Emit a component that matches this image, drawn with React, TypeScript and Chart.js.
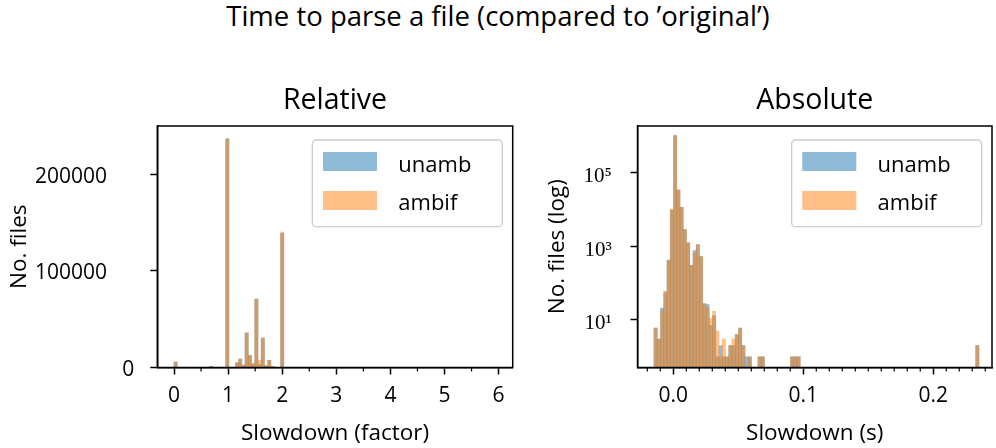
import React, { useEffect, useRef } from 'react';
import { Chart, registerables } from 'chart.js';

Chart.register(...registerables);

const SANS = '"Open Sans", Lato, "DejaVu Sans", sans-serif';
const SERIF = '"Liberation Serif", "DejaVu Serif", serif';

const figureTitle = 'Time to parse a file (compared to ’original’)';
const seriesLabels = ['unamb', 'ambif'];
const seriesColors = ['rgba(31, 119, 180, 0.5)', 'rgba(255, 127, 14, 0.5)'];

// ---------- Relative panel (slowdown factor), 100 bins ----------
const relTitle = 'Relative';
const relXLabel = 'Slowdown (factor)';
const relYLabel = 'No. files';
const relBinStart = 0;
const relBinWidth = 0.0597;
const relUnamb = [
  5500, 0, 0, 0, 0, 0, 0, 0, 0, 0,
  0, 1300, 0, 0, 0, 0, 237000, 0, 0, 4800,
  8600, 2400, 36000, 12700, 3500, 70800, 3000, 30500, 2000, 7500,
  1200, 0, 0, 139000, 0, 0, 0, 0, 0, 0,
  0, 0, 0, 0, 0, 0, 0, 0, 0, 0,
  0, 0, 0, 0, 0, 0, 0, 0, 0, 0,
  0, 0, 0, 0, 0, 0, 0, 0, 0, 0,
  0, 0, 0, 0, 0, 0, 0, 0, 0, 0,
  0, 0, 0, 0, 0, 0, 0, 0, 0, 0,
  0, 0, 0, 0, 0, 0, 0, 0, 0, 2,
];
const relAmbif = [
  5500, 0, 0, 0, 0, 0, 0, 0, 0, 0,
  0, 1300, 0, 0, 0, 0, 236000, 0, 0, 4800,
  8600, 2300, 35800, 12000, 4600, 70800, 7700, 30400, 2000, 7500,
  1200, 0, 0, 140100, 0, 0, 0, 0, 0, 0,
  0, 0, 0, 0, 0, 0, 0, 0, 0, 0,
  0, 0, 0, 0, 0, 0, 0, 0, 0, 0,
  0, 0, 0, 0, 0, 0, 0, 0, 0, 0,
  0, 0, 0, 0, 0, 0, 0, 0, 0, 0,
  0, 0, 0, 0, 0, 0, 0, 0, 0, 0,
  0, 0, 0, 0, 0, 0, 0, 0, 0, 2,
];
const relXMin = -0.309;
const relXMax = 6.261;
const relYMax = 250000;
const relXTicks = [0, 1, 2, 3, 4, 5, 6];
const relXMinorTicks = [0.5, 1.5, 2.5, 3.5, 4.5, 5.5];
const relYTicks = [0, 100000, 200000];

// ---------- Absolute panel (slowdown in seconds), 100 bins, log counts ----------
const absTitle = 'Absolute';
const absXLabel = 'Slowdown (s)';
const absYLabel = 'No. files (log)';
const absBinStart = -0.01485;
const absBinWidth = 0.0025;
const absUnamb = [
  6, 3, 21, 55, 420, 9500, 980000, 33000, 11300, 2800,
  1230, 300, 760, 1080, 520, 27, 26, 7, 13, 1,
  2, 1, 1, 2, 2, 4, 6, 2, 1, 1,
  0, 0, 1, 1, 0, 0, 0, 0, 0, 0,
  0, 0, 1, 1, 1, 0, 0, 0, 0, 0,
  0, 0, 0, 0, 0, 0, 0, 0, 0, 0,
  0, 0, 0, 0, 0, 0, 0, 0, 0, 0,
  0, 0, 0, 0, 0, 0, 0, 0, 0, 0,
  0, 0, 0, 0, 0, 0, 0, 0, 0, 0,
  0, 0, 0, 0, 0, 0, 0, 0, 0, 2,
];
const absAmbif = [
  6, 3, 18, 60, 400, 10000, 980000, 33000, 11300, 2800,
  1230, 300, 660, 1110, 520, 28, 21, 11, 17, 5,
  1, 3, 1, 2, 3, 4, 6, 2, 0, 1,
  0, 0, 1, 1, 0, 0, 0, 0, 0, 0,
  0, 0, 1, 1, 1, 0, 0, 0, 0, 0,
  0, 0, 0, 0, 0, 0, 0, 0, 0, 0,
  0, 0, 0, 0, 0, 0, 0, 0, 0, 0,
  0, 0, 0, 0, 0, 0, 0, 0, 0, 0,
  0, 0, 0, 0, 0, 0, 0, 0, 0, 0,
  0, 0, 0, 0, 0, 0, 0, 0, 0, 2,
];
const absXMin = -0.02754;
const absXMax = 0.2452;
const absYMin = 0.513;
const absYMax = 1.795e6;
const absXTicks = [0, 0.1, 0.2];
const absXMinorTicks = [
  -0.02, -0.01, 0.01, 0.02, 0.03, 0.04, 0.05, 0.06, 0.07, 0.08, 0.09,
  0.11, 0.12, 0.13, 0.14, 0.15, 0.16, 0.17, 0.18, 0.19, 0.21, 0.22, 0.23, 0.24,
];
const absYTicks = [10, 1000, 100000];
const absYTickLabels = ['10¹', '10³', '10⁵'];

// ---------- text sizes ----------
const TICK_SIZE = 21;
const LABEL_SIZE = 22.5;
const LEGEND_SIZE = 22;
const TITLE_SIZE = 28.5;
const SUPTITLE_SIZE = 27.5;

// ---------- helpers ----------
const binCenters = (start: number, width: number, n: number) =>
  Array.from({ length: n }, (_, i) => start + (i + 0.5) * width);

const toPoints = (centers: number[], counts: number[], log: boolean) =>
  counts.map((c, i) => ({ x: centers[i], y: log && c <= 0 ? null : c }));

const font = (size: number, family = SANS) => ({ family, size, weight: 'normal' as const, lineHeight: 1.2 });

const gridOpts = {
  display: true,
  drawOnChartArea: false,
  drawTicks: true,
  tickLength: 7,
  tickWidth: 1.5,
  tickColor: '#000',
  offset: false,
};
const borderOpts = { display: true, color: '#000', width: 1.5 };

const decorPlugin = {
  id: 'mplDecor',
  afterDraw(chart: any, _args: any, opts: any) {
    const { ctx, chartArea: a } = chart;
    const xs = chart.scales.x;
    ctx.save();
    // minor ticks
    ctx.strokeStyle = '#000';
    ctx.lineWidth = 1.2;
    ctx.beginPath();
    for (const v of opts.minorTicks || []) {
      const px = xs.getPixelForValue(v);
      ctx.moveTo(px, a.bottom);
      ctx.lineTo(px, a.bottom + 4);
    }
    ctx.stroke();
    // frame (all four spines)
    ctx.lineWidth = 1.5;
    ctx.strokeRect(a.left, a.top, a.right - a.left, a.bottom - a.top);
    // legend (matplotlib style, upper right)
    const w = 190;
    const h = 86.7;
    const x = a.right - 10.4 - w;
    const y = a.top + 14;
    const r = 4;
    ctx.beginPath();
    ctx.moveTo(x + r, y);
    ctx.lineTo(x + w - r, y);
    ctx.arcTo(x + w, y, x + w, y + r, r);
    ctx.lineTo(x + w, y + h - r);
    ctx.arcTo(x + w, y + h, x + w - r, y + h, r);
    ctx.lineTo(x + r, y + h);
    ctx.arcTo(x, y + h, x, y + h - r, r);
    ctx.lineTo(x, y + r);
    ctx.arcTo(x, y, x + r, y, r);
    ctx.closePath();
    ctx.fillStyle = 'rgba(255,255,255,0.8)';
    ctx.fill();
    ctx.strokeStyle = '#cccccc';
    ctx.lineWidth = 1.3;
    ctx.stroke();
    chart.data.datasets.forEach((ds: any, i: number) => {
      ctx.fillStyle = ds.backgroundColor;
      ctx.fillRect(x + 10.7, y + 12 + i * 39, 54, 19);
      ctx.fillStyle = '#000';
      ctx.font = `${LEGEND_SIZE}px ${SANS}`;
      ctx.textAlign = 'left';
      ctx.textBaseline = 'alphabetic';
      ctx.fillText(ds.label, x + 86, y + 31.7 + i * 38.3);
    });
    ctx.restore();
  },
};

function makeConfig(p: {
  title: string;
  xLabel: string;
  yLabel: string;
  centers: number[];
  unamb: number[];
  ambif: number[];
  log: boolean;
  xMin: number;
  xMax: number;
  yMin: number;
  yMax: number;
  xTicks: number[];
  xFmt: (v: number) => string;
  xMinor: number[];
  yTicks: number[];
  yFmt: (v: number, i: number) => string;
  yFont: any;
  yWidth: number;
  yPad: number;
  yLabelOffset: number;
  yTitlePad: number;
  padRight: number;
}): any {
  const titleLine = TITLE_SIZE * 1.2;
  const titleTop = 101 - titleLine / 2;
  return {
    type: 'bar',
    data: {
      datasets: [
        {
          label: seriesLabels[0],
          data: toPoints(p.centers, p.unamb, p.log),
          backgroundColor: seriesColors[0],
          borderWidth: 0,
          barPercentage: 1,
          categoryPercentage: 1,
          grouped: false,
          order: 2,
        },
        {
          label: seriesLabels[1],
          data: toPoints(p.centers, p.ambif, p.log),
          backgroundColor: seriesColors[1],
          borderWidth: 0,
          barPercentage: 1,
          categoryPercentage: 1,
          grouped: false,
          order: 1,
        },
      ],
    },
    options: {
      responsive: false,
      animation: false,
      events: [],
      layout: { padding: { top: titleTop, right: p.padRight, bottom: 0, left: 0 } },
      plugins: {
        legend: { display: false },
        tooltip: { enabled: false },
        title: {
          display: true,
          text: p.title,
          font: font(TITLE_SIZE),
          color: '#000',
          padding: { top: 0, bottom: 126 - titleTop - titleLine },
          fullSize: false,
        },
        mplDecor: { minorTicks: p.xMinor },
      },
      scales: {
        x: {
          type: 'linear',
          min: p.xMin,
          max: p.xMax,
          offset: false,
          afterBuildTicks: (s: any) => {
            s.ticks = p.xTicks.map((v) => ({ value: v }));
          },
          afterFit: (s: any) => {
            s.height = 80.5;
          },
          ticks: {
            callback: (v: any) => p.xFmt(Number(v)),
            font: font(TICK_SIZE),
            color: '#000',
            padding: 9,
            maxRotation: 0,
            autoSkip: false,
          },
          grid: gridOpts,
          border: borderOpts,
          title: {
            display: true,
            text: p.xLabel,
            font: font(LABEL_SIZE),
            color: '#000',
            padding: { top: 0, bottom: 14.8 - (LABEL_SIZE * 1.2) / 2 },
          },
        },
        y: {
          type: p.log ? 'logarithmic' : 'linear',
          min: p.yMin,
          max: p.yMax,
          afterBuildTicks: (s: any) => {
            s.ticks = p.yTicks.map((v) => ({ value: v }));
          },
          afterFit: (s: any) => {
            s.width = p.yWidth;
          },
          ticks: {
            callback: (v: any, i: number) => p.yFmt(Number(v), i),
            font: p.yFont,
            color: '#000',
            padding: p.yPad,
            labelOffset: p.yLabelOffset,
            autoSkip: false,
          },
          grid: gridOpts,
          border: borderOpts,
          title: {
            display: true,
            text: p.yLabel,
            font: font(LABEL_SIZE),
            color: '#000',
            padding: { top: p.yTitlePad - (LABEL_SIZE * 1.2) / 2, bottom: 0 },
          },
        },
      },
    },
    plugins: [decorPlugin],
  };
}

export default function App() {
  const leftRef = useRef<HTMLCanvasElement>(null);
  const rightRef = useRef<HTMLCanvasElement>(null);

  useEffect(() => {
    const relCenters = binCenters(relBinStart, relBinWidth, relUnamb.length);
    const absCenters = binCenters(absBinStart, absBinWidth, absUnamb.length);

    const left = new Chart(
      leftRef.current as HTMLCanvasElement,
      makeConfig({
        title: relTitle,
        xLabel: relXLabel,
        yLabel: relYLabel,
        centers: relCenters,
        unamb: relUnamb,
        ambif: relAmbif,
        log: false,
        xMin: relXMin,
        xMax: relXMax,
        yMin: 0,
        yMax: relYMax,
        xTicks: relXTicks,
        xFmt: (v) => String(v),
        xMinor: relXMinorTicks,
        yTicks: relYTicks,
        yFmt: (v) => {
          const s = String(v);
          return s + ' '.repeat(s.length - 1);
        },
        yFont: font(TICK_SIZE),
        yWidth: 157.3,
        yPad: 16,
        yLabelOffset: 2.5,
        yTitlePad: 19.2,
        padRight: 540 - 512.7,
      })
    );

    const right = new Chart(
      rightRef.current as HTMLCanvasElement,
      makeConfig({
        title: absTitle,
        xLabel: absXLabel,
        yLabel: absYLabel,
        centers: absCenters,
        unamb: absUnamb,
        ambif: absAmbif,
        log: true,
        xMin: absXMin,
        xMax: absXMax,
        yMin: absYMin,
        yMax: absYMax,
        xTicks: absXTicks,
        xFmt: (v) => v.toFixed(1),
        xMinor: absXMinorTicks,
        yTicks: absYTicks,
        yFmt: (_v, i) => absYTickLabels[i],
        yFont: font(TICK_SIZE, SERIF),
        yWidth: 97.5,
        yPad: 18.8,
        yLabelOffset: 4,
        yTitlePad: 17.2,
        padRight: 4,
      })
    );

    return () => {
      left.destroy();
      right.destroy();
    };
  }, []);

  return (
    <div
      style={{
        position: 'absolute',
        left: 0,
        top: 0,
        width: 996,
        height: 448,
        background: '#fff',
        overflow: 'hidden',
      }}
    >
      <div
        style={{
          position: 'absolute',
          left: 0,
          top: 2,
          width: 996,
          textAlign: 'center',
          fontFamily: SANS,
          fontSize: SUPTITLE_SIZE,
          lineHeight: `${SUPTITLE_SIZE}px`,
          color: '#000',
          whiteSpace: 'nowrap',
        }}
      >
        {figureTitle}
      </div>
      <canvas
        ref={leftRef}
        width={540}
        height={448}
        style={{ position: 'absolute', left: 0, top: 0, width: 540, height: 448 }}
      />
      <canvas
        ref={rightRef}
        width={456}
        height={448}
        style={{ position: 'absolute', left: 540, top: 0, width: 456, height: 448 }}
      />
    </div>
  );
}
